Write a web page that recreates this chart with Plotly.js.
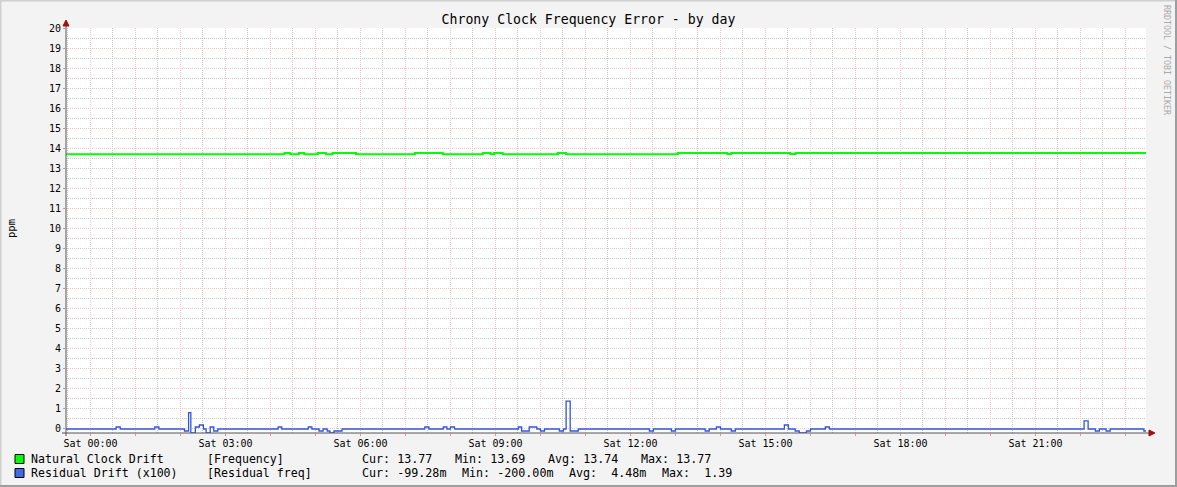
<!DOCTYPE html>
<html>
<head>
<meta charset="utf-8">
<script src="https://cdn.plot.ly/plotly-3.0.1.min.js"></script>
<style>
  html, body { margin: 0; padding: 0; background: #f3f3f3; }
  #chart { width: 1177px; height: 487px; }
</style>
</head>
<body>
<div id="chart"></div>
<script>
// hours relative to Sat 00:00, step values (rrd style)
var freqHours  = [-0.544, 4.31, 4.44, 4.63, 4.75, 5.05, 5.23, 5.38, 5.90, 7.21, 7.83, 8.72, 8.89, 8.97, 9.16, 10.39, 10.57, 13.05, 14.15, 14.24, 15.55, 15.67, 23.456];
var freqValues = [13.70, 13.76, 13.70, 13.76, 13.70, 13.76, 13.70, 13.76, 13.70, 13.76, 13.70, 13.76, 13.70, 13.76, 13.70, 13.76, 13.70, 13.77, 13.72, 13.77, 13.72, 13.77, 13.77];

var residHours  = [-0.544, 0.57, 0.66, 1.43, 1.52, 2.09, 2.18, 2.23, 2.33, 2.42, 2.51, 2.57, 2.66, 2.74, 2.83,
                   4.17, 4.25, 4.84, 4.92, 5.08, 5.17, 5.26, 5.32, 5.41, 5.59,
                   7.43, 7.52, 7.84, 7.92, 8.00, 8.09, 9.51, 9.58, 9.75, 9.92, 10.00, 10.09,
                   10.42, 10.51, 10.57, 10.66, 10.84, 12.42, 12.51, 12.91, 13.00,
                   13.66, 13.75, 13.91, 14.00, 14.24, 14.33, 15.42, 15.51, 15.66, 15.75, 15.91, 16.00,
                   16.33, 16.42, 22.08, 22.17, 22.33, 22.42, 22.57, 22.66, 23.41, 23.456];
var residValues = [0, 0.1, 0, 0.1, 0, -0.1, 0.82, -0.2, 0.1, 0.2, 0, -0.2, 0.1, -0.1, 0,
                   0.1, 0, 0.1, 0, -0.1, 0, -0.1, -0.2, -0.1, 0,
                   0.1, 0, 0.1, 0, 0.1, 0, 0.1, -0.1, 0.1, 0, -0.1, 0,
                   -0.1, 0, 1.39, -0.1, 0, -0.1, 0, -0.1, 0,
                   -0.1, 0, 0.1, 0, -0.1, 0, 0.2, 0, -0.1, -0.2, -0.1, 0,
                   0.1, 0, 0.4, 0, -0.1, 0, -0.1, 0, -0.1, -0.1];

var xLabelHours = [0, 3, 6, 9, 12, 15, 18, 21];
var xLabels = ['Sat 00:00', 'Sat 03:00', 'Sat 06:00', 'Sat 09:00', 'Sat 12:00', 'Sat 15:00', 'Sat 18:00', 'Sat 21:00'];

var seriesNames   = ['Natural Clock Drift', 'Residual Drift (x100)'];
var seriesSources = ['[Frequency]', '[Residual freq]'];
var seriesColors  = ['#00ff00', '#4169e1'];
var statCur = ['Cur: 13.77', 'Cur: -99.28m'];
var statMin = ['Min: 13.69', 'Min: -200.00m'];
var statAvg = ['Avg: 13.74', 'Avg:  4.48m'];
var statMax = ['Max: 13.77', 'Max:  1.39'];

// pixel -> paper helpers (plot area 66..1146 x 28..433)
function px(x) { return (x - 66) / 1080; }
function py(y) { return (433 - y) / 405; }

var mono = 'DejaVu Sans Mono, monospace';

var gridHours = [];
for (var h = 0; h <= 23; h++) gridHours.push(h);
var gridText = gridHours.map(function(h) {
  var k = xLabelHours.indexOf(h);
  return k >= 0 ? xLabels[k] : '';
});

var trace1 = {
  x: freqHours,
  y: freqValues,
  type: 'scatter',
  mode: 'lines',
  name: seriesNames[0],
  line: { color: seriesColors[0], width: 2, shape: 'hv' },
  hoverinfo: 'skip'
};

var trace2 = {
  x: residHours,
  y: residValues,
  type: 'scatter',
  mode: 'lines',
  name: seriesNames[1],
  line: { color: '#2f55e0', width: 1.3, shape: 'hv' },
  hoverinfo: 'skip'
};

var annotations = [];
var shapes = [];

for (var i = 0; i < 2; i++) {
  var rowY = 459 + i * 14;
  shapes.push({
    type: 'rect', xref: 'paper', yref: 'paper',
    x0: px(15), x1: px(24), y0: py(rowY - 4.5), y1: py(rowY + 4.5),
    fillcolor: seriesColors[i], line: { color: '#000', width: 1 }
  });
  var cols = [
    [30, seriesNames[i], 11.6], [206, seriesSources[i], 11.6],
    [361, statCur[i], 11.7], [i === 0 ? 454 : 461, statMin[i], 11.7],
    [i === 0 ? 547 : 568, statAvg[i], 11.7], [i === 0 ? 640 : 661, statMax[i], 11.7]
  ];
  cols.forEach(function(c) {
    annotations.push({
      xref: 'paper', yref: 'paper', x: px(c[0] - 1), y: py(rowY),
      xanchor: 'left', yanchor: 'middle', showarrow: false,
      text: c[1].replace(/ /g, '\u00a0'),
      font: { family: mono, size: c[2], color: '#000' }
    });
  });
}

annotations.push({
  xref: 'paper', yref: 'paper', x: px(11), y: py(229),
  xanchor: 'center', yanchor: 'middle', showarrow: false, textangle: -90,
  text: 'ppm', font: { family: mono, size: 10.5, color: '#000' }
});
annotations.push({
  xref: 'paper', yref: 'paper', x: px(1167), y: py(60),
  xanchor: 'center', yanchor: 'middle', showarrow: false, textangle: 90,
  text: 'RRDTOOL / TOBI OETIKER', font: { family: mono, size: 8.3, color: '#aaaaaa' }
});

// frame of the canvas
shapes.push({ type: 'rect', xref: 'paper', yref: 'paper', x0: px(0), x1: px(1177), y0: py(1.5), y1: py(0), fillcolor: '#cfcfcf', line: { width: 0 } });
shapes.push({ type: 'rect', xref: 'paper', yref: 'paper', x0: px(0), x1: px(1.5), y0: py(487), y1: py(0), fillcolor: '#cfcfcf', line: { width: 0 } });
shapes.push({ type: 'rect', xref: 'paper', yref: 'paper', x0: px(0), x1: px(1177), y0: py(487), y1: py(485), fillcolor: '#9e9e9e', line: { width: 0 } });
shapes.push({ type: 'rect', xref: 'paper', yref: 'paper', x0: px(1175), x1: px(1177), y0: py(487), y1: py(0), fillcolor: '#9e9e9e', line: { width: 0 } });

// axis lines with arrows
shapes.push({ type: 'line', xref: 'paper', yref: 'paper', x0: px(62), x1: px(1150), y0: 0, y1: 0, line: { color: '#555', width: 1 } });
shapes.push({ type: 'line', xref: 'paper', yref: 'paper', x0: 0, x1: 0, y0: py(436), y1: py(23), line: { color: '#555', width: 1 } });
shapes.push({
  type: 'path', xref: 'paper', yref: 'paper',
  path: 'M ' + px(1149) + ' ' + py(430) + ' L ' + px(1155) + ' ' + py(433) + ' L ' + px(1149) + ' ' + py(436) + ' Z',
  fillcolor: '#a01010', line: { color: '#a01010', width: 1 }
});
shapes.push({
  type: 'path', xref: 'paper', yref: 'paper',
  path: 'M ' + px(63) + ' ' + py(26) + ' L ' + px(66) + ' ' + py(20) + ' L ' + px(69) + ' ' + py(26) + ' Z',
  fillcolor: '#a01010', line: { color: '#a01010', width: 1 }
});

var majorGrid = '#f2c6c6';
var minorGrid = '#c6c6c6';
var dots = '1px,1px';

var layout = {
  width: 1177,
  height: 487,
  paper_bgcolor: '#f3f3f3',
  plot_bgcolor: '#ffffff',
  margin: { l: 66, r: 31, t: 28, b: 54 },
  showlegend: false,
  title: {
    text: 'Chrony Clock Frequency Error - by day',
    x: 0.5, xref: 'container', xanchor: 'center',
    y: 1 - 19 / 487, yref: 'container', yanchor: 'middle',
    font: { family: mono, size: 13.2, color: '#000' }
  },
  xaxis: {
    range: [-0.544, 23.456],
    tickmode: 'array',
    tickvals: gridHours,
    ticktext: gridText,
    showgrid: true,
    gridcolor: majorGrid,
    griddash: dots,
    gridwidth: 1,
    minor: { dtick: 0.5, tick0: 0, showgrid: true, gridcolor: minorGrid, griddash: dots, ticks: '' },
    ticks: 'outside',
    ticklen: 2,
    tickcolor: '#e09090',
    ticklabelstandoff: -1,
    zeroline: false,
    showline: false,
    tickfont: { family: mono, size: 10, color: '#000' },
    fixedrange: true
  },
  yaxis: {
    range: [-0.2, 20],
    tickmode: 'linear',
    tick0: 0,
    dtick: 1,
    showgrid: true,
    gridcolor: majorGrid,
    griddash: dots,
    gridwidth: 1,
    minor: { dtick: 0.5, tick0: 0, showgrid: true, gridcolor: minorGrid, griddash: dots, ticks: '' },
    ticks: 'outside',
    ticklen: 2,
    tickcolor: '#e09090',
    zeroline: false,
    showline: false,
    tickfont: { family: mono, size: 10, color: '#000' },
    fixedrange: true
  },
  annotations: annotations,
  shapes: shapes
};

Plotly.newPlot('chart', [trace1, trace2], layout, { displayModeBar: false, staticPlot: true });
</script>
</body>
</html>
